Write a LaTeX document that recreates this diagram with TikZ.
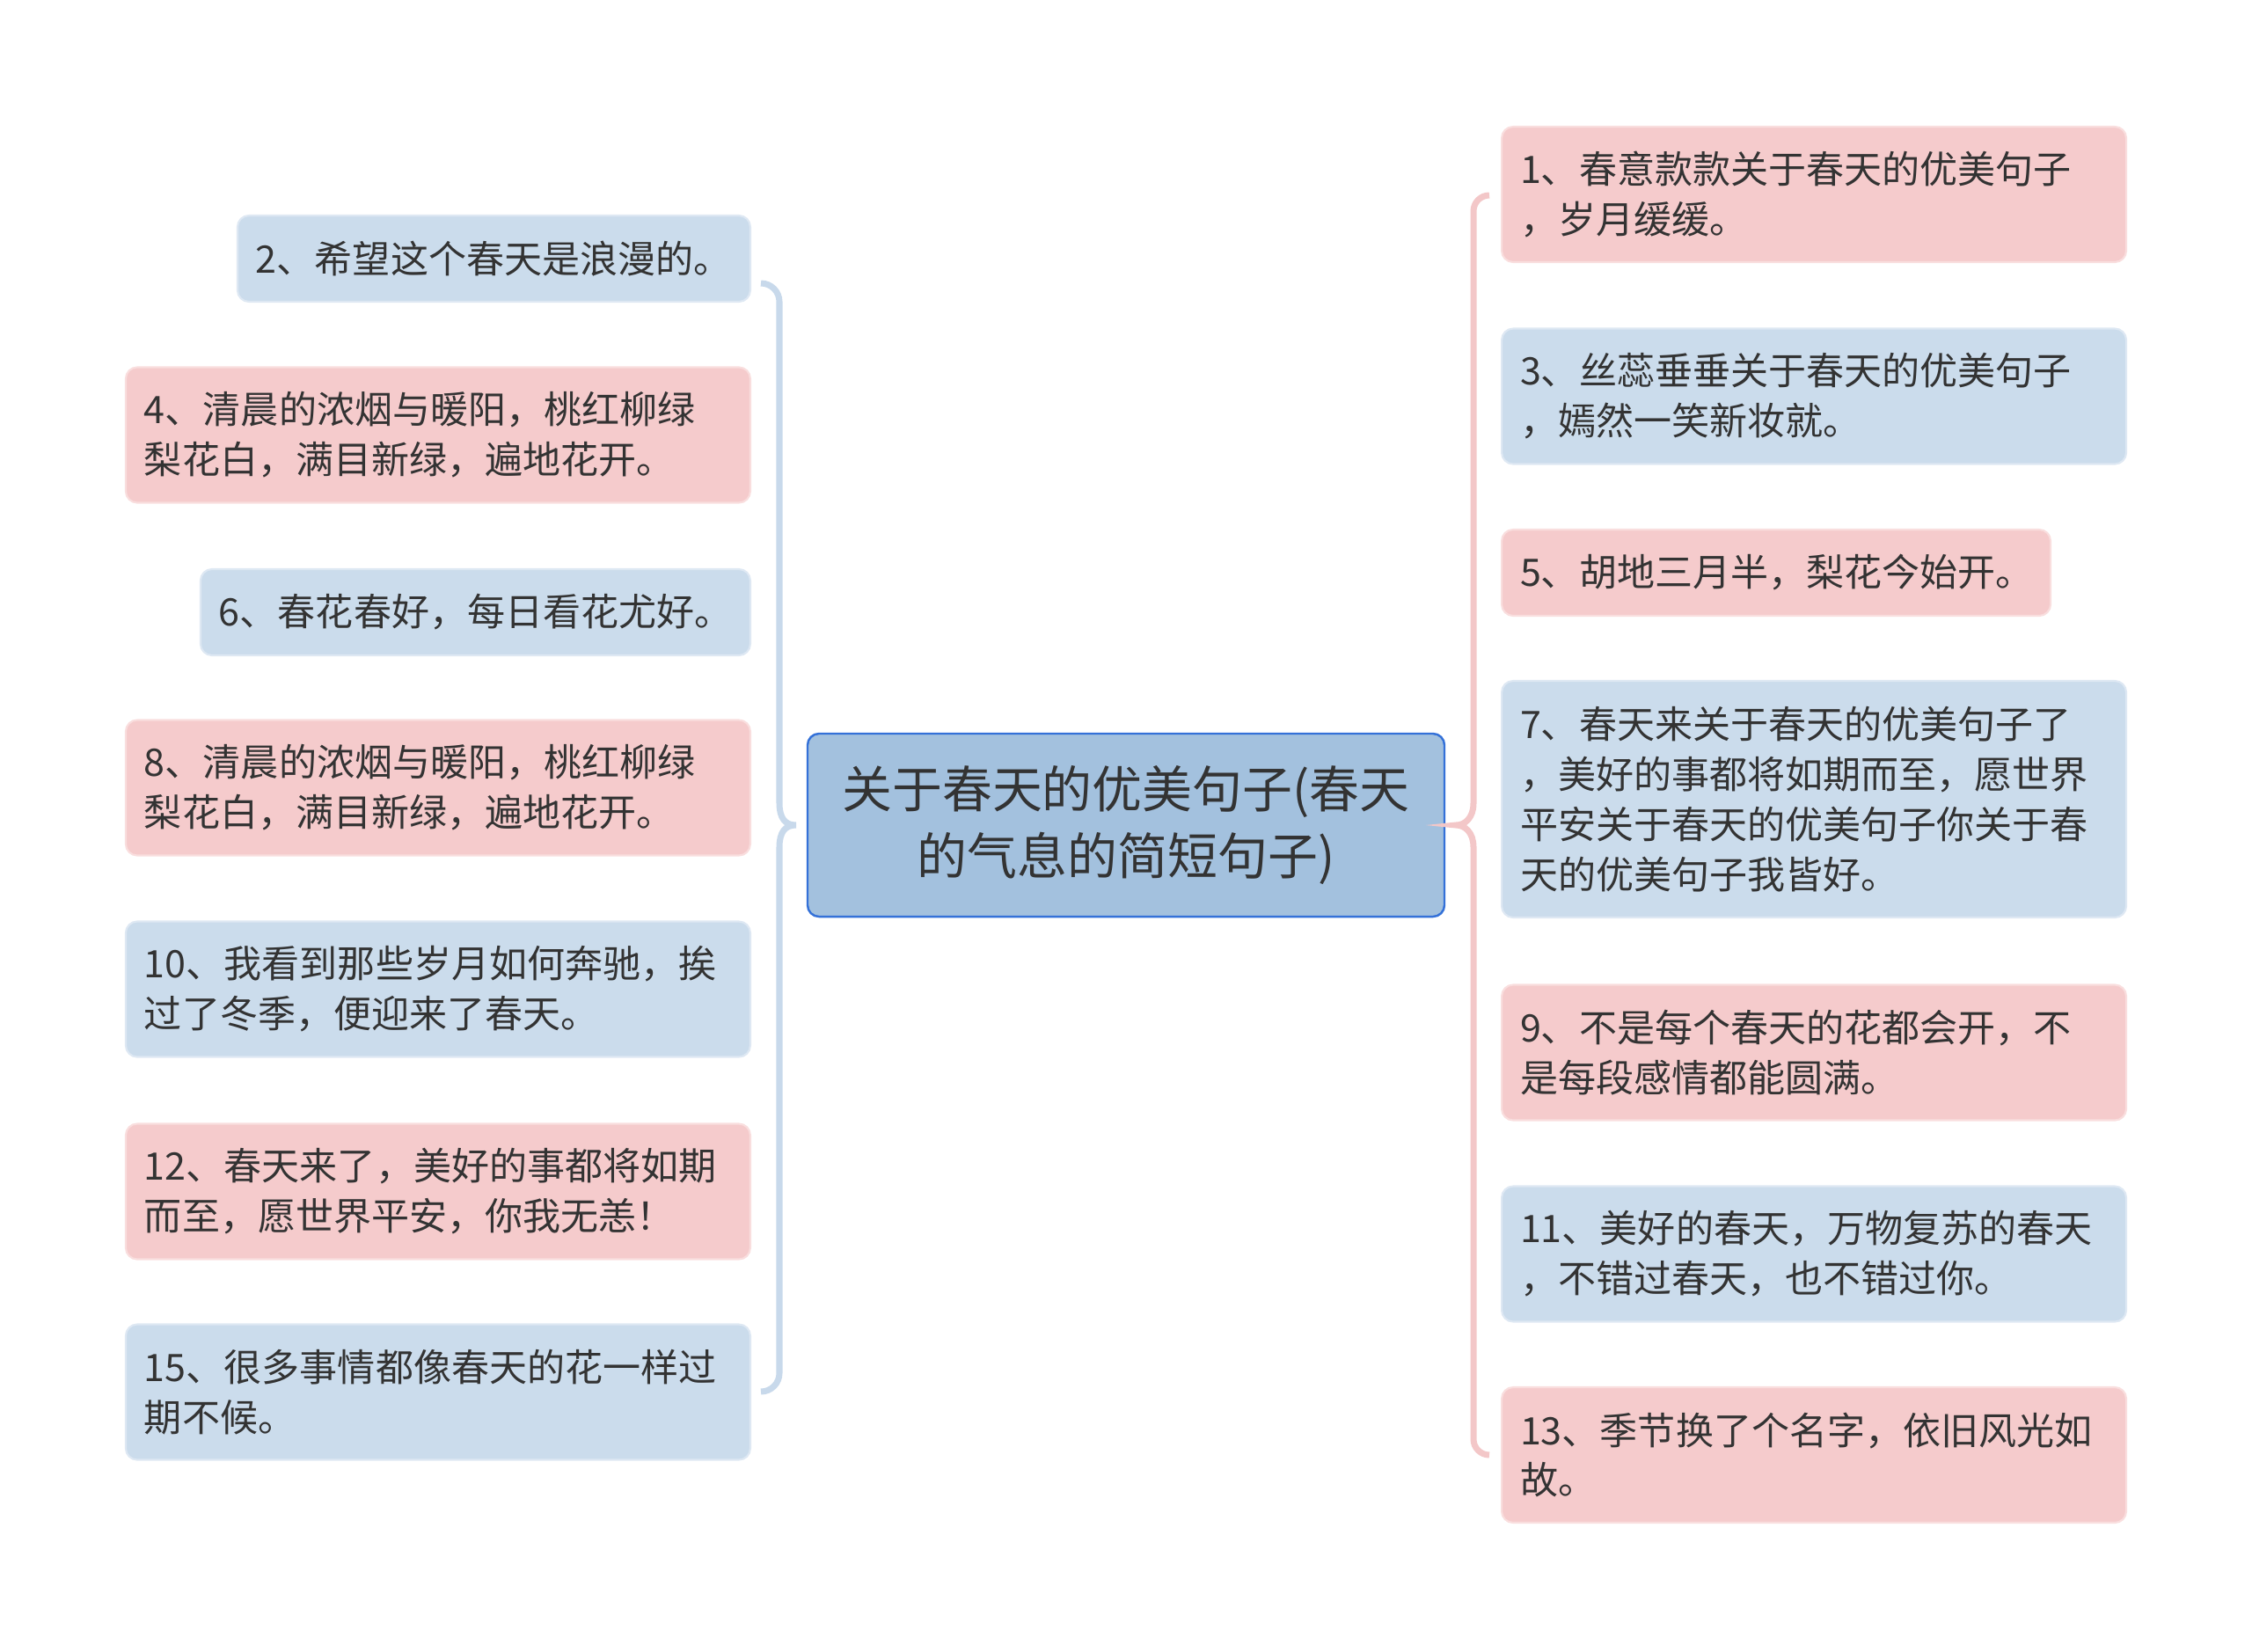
\documentclass[tikz,border=0pt]{standalone}
\usepackage{fontspec}
\newfontfamily\cjk{Noto Sans CJK SC}
\definecolor{pinkfill}{HTML}{F5CBCC}
\definecolor{pinkline}{HTML}{F9DEDE}
\definecolor{bluefill}{HTML}{CBDCEC}
\definecolor{blueline}{HTML}{DEE8F3}
\definecolor{topicfill}{HTML}{A3C1DE}
\definecolor{topicline}{HTML}{3471D8}
\definecolor{lbrace}{HTML}{C8D9EB}
\definecolor{rbrace}{HTML}{F3C7C8}
\definecolor{textgray}{HTML}{333333}
\begin{document}
\begin{tikzpicture}[
    leaf/.style={rounded corners=0.26cm, line width=1.2pt, align=left,
        text=textgray, inner xsep=0.42cm, inner ysep=0pt,
        font=\cjk\fontsize{24.5}{32.4}\selectfont},
    pinkleaf/.style={leaf, fill=pinkfill, draw=pinkline},
    blueleaf/.style={leaf, fill=bluefill, draw=blueline},
    topic/.style={rounded corners=0.26cm, line width=1.4pt, align=center,
        fill=topicfill, draw=topicline, text=textgray,
        minimum width=14.48cm, minimum height=4.16cm,
        font=\cjk\fontsize{32.4}{43.6}\selectfont},
    wide/.style={text width=13.36cm},
    one/.style={minimum height=1.96cm},
    two/.style={minimum height=3.08cm},
    lbr/.style={draw=lbrace, line width=4pt},
    rbr/.style={draw=rbrace, line width=4pt}
]
\useasboundingbox (0,0) rectangle (51.2,-37.54);
\node[topic] (root) at (25.6,-18.76) {关于春天的优美句子(春天\\的气息的简短句子)};

\node[blueleaf, one, text width=10.82cm, anchor=east] (l2) at (17.08,-5.88) {2、希望这个春天是浪漫的。};
\node[pinkleaf, two, wide, anchor=east] (l4) at (17.08,-9.89) {4、清晨的浓烟与暖阳，桃红柳绿\\梨花白，满目新绿，遍地花开。};
\node[blueleaf, one, text width=11.66cm, anchor=east] (l6) at (17.08,-13.92) {6、春花春好，每日看花尤好。};
\node[pinkleaf, two, wide, anchor=east] (l8) at (17.08,-17.91) {8、清晨的浓烟与暖阳，桃红柳绿\\梨花白，满目新绿，遍地花开。};
\node[blueleaf, two, wide, anchor=east] (l10) at (17.08,-22.49) {10、我看到那些岁月如何奔驰，挨\\过了冬季，便迎来了春天。};
\node[pinkleaf, two, wide, anchor=east] (l12) at (17.08,-27.09) {12、春天来了，美好的事都将如期\\而至，愿世界平安，你我无恙！};
\node[blueleaf, two, wide, anchor=east] (l15) at (17.08,-31.65) {15、很多事情都像春天的花一样过\\期不候。};

\node[pinkleaf, two, wide, anchor=west] (r1) at (34.12,-4.42) {1、春意款款关于春天的优美句子\\，岁月缓缓。};
\node[blueleaf, two, wide, anchor=west] (r3) at (34.12,-9.01) {3、丝蕊垂垂关于春天的优美句子\\，嫣然一笑新妆就。};
\node[pinkleaf, one, text width=11.64cm, anchor=west] (r5) at (34.12,-13.02) {5、胡地三月半，梨花今始开。};
\node[blueleaf, minimum height=5.38cm, wide, anchor=west] (r7) at (34.12,-18.17) {7、春天来关于春天的优美句子了\\，美好的事都将如期而至，愿世界\\平安关于春天的优美句子你关于春\\天的优美句子我皆好。};
\node[pinkleaf, two, wide, anchor=west] (r9) at (34.12,-23.93) {9、不是每个春天的花都会开，不\\是每段感情都能圆满。};
\node[blueleaf, two, wide, anchor=west] (r11) at (34.12,-28.51) {11、美好的春天，万物复苏的春天\\，不错过春天，也不错过你。};
\node[pinkleaf, two, wide, anchor=west] (r13) at (34.12,-33.08) {13、季节换了个名字，依旧风光如\\故。};

\coordinate (ltop) at (17.3,-6.44);
\coordinate (ltip) at ([xshift=-0.24cm]root.west);
\coordinate (rtop) at (33.86,-4.44);
\coordinate (rtip) at ([xshift=0.24cm]root.east);

\draw[lbr] (ltop) arc[start angle=90, end angle=0, radius=0.42] -- (17.72,-18.26)
    .. controls (17.72,-18.6) and (17.85,-18.76) .. (ltip)
    .. controls (17.85,-18.76) and (17.72,-18.92) .. (17.72,-19.26)
    -- (17.72,-31.22) arc[start angle=0, end angle=-90, radius=0.42];
\draw[rbr] (rtop) arc[start angle=90, end angle=180, radius=0.36] -- (33.5,-18.26)
    .. controls (33.5,-18.6) and (33.3,-18.76) .. (rtip)
    .. controls (33.3,-18.76) and (33.5,-18.92) .. (33.5,-19.26)
    -- (33.5,-32.72) arc[start angle=180, end angle=270, radius=0.36];
\end{tikzpicture}
\end{document}
